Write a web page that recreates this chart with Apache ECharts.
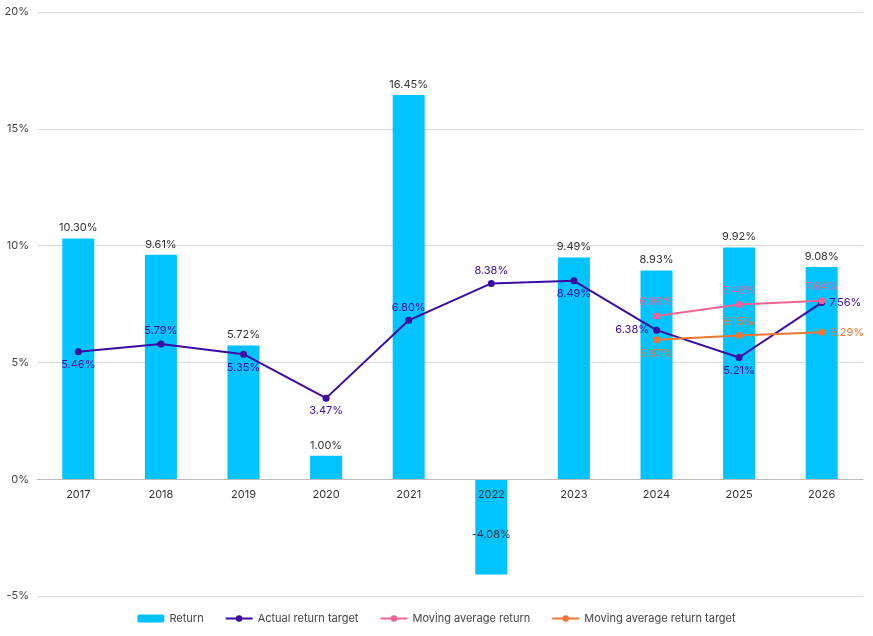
<!DOCTYPE html>
<html>
<head>
<meta charset="utf-8">
<script src="https://cdn.jsdelivr.net/npm/echarts@6/dist/echarts.min.js"></script>
<style>
html, body { margin: 0; padding: 0; background: #fff; }
#chart { width: 873px; height: 636px; }
</style>
</head>
<body>
<div id="chart"></div>
<script>
var years = ['2017', '2018', '2019', '2020', '2021', '2022', '2023', '2024', '2025', '2026'];
var returns = [10.30, 9.61, 5.72, 1.00, 16.45, -4.08, 9.49, 8.93, 9.92, 9.08];
var actualTarget = [5.46, 5.79, 5.35, 3.47, 6.80, 8.38, 8.49, 6.38, 5.21, 7.56];
var movingAvg = [null, null, null, null, null, null, null, 6.99, 7.48, 7.64];
var movingAvgTarget = [null, null, null, null, null, null, null, 5.97, 6.15, 6.29];

// label placement for each point of the line series
var actualPos = ['bottom', 'top', 'bottom', 'bottom', 'top', 'top', 'bottom', 'left', 'bottom', 'right'];
var mavgPos = [null, null, null, null, null, null, null, 'top', 'top', 'top'];
var mavgTargetPos = [null, null, null, null, null, null, null, 'bottom', 'top', 'right'];

var pct = function (p) { return p.value == null ? '' : p.value.toFixed(2) + '%'; };

var withPos = function (values, pos) {
    return values.map(function (v, i) {
        if (v == null) return null;
        return { value: v, label: { position: pos[i] } };
    });
};

var myChart = echarts.init(document.getElementById('chart'));
var option = {
    textStyle: { fontFamily: 'Inter, sans-serif' },
    grid: { left: 37, right: 10, top: 12, bottom: 40, containLabel: false },
    legend: {
        bottom: 7,
        itemWidth: 27,
        itemHeight: 8,
        itemGap: 21,
        textStyle: { fontSize: 11, color: '#444' },
        data: ['Return', 'Actual return target', 'Moving average return', 'Moving average return target']
    },
    xAxis: {
        type: 'category',
        data: years,
        offset: -117,
        z: 10,
        axisLine: { onZero: false, lineStyle: { color: '#bbb' } },
        axisTick: { show: false },
        axisLabel: { color: '#333', fontSize: 11, margin: 10, interval: 0, hideOverlap: false }
    },
    yAxis: {
        type: 'value',
        min: -5,
        max: 20,
        interval: 5,
        axisLine: { show: false },
        axisTick: { show: false },
        axisLabel: { color: '#444', fontSize: 11, formatter: '{value}%', margin: 8, align: 'right' },
        splitLine: { lineStyle: { color: '#dcdcdc' } }
    },
    series: [
        {
            name: 'Return',
            type: 'bar',
            barWidth: 32,
            itemStyle: { color: '#00c3ff' },
            label: { show: true, position: 'top', color: '#333', fontSize: 11, formatter: pct },
            data: returns.map(function (v) {
                return v < 0 ? { value: v, label: { position: 'inside', offset: [0, 8] } } : v;
            })
        },
        {
            name: 'Actual return target',
            type: 'line',
            symbol: 'circle',
            symbolSize: 7,
            color: '#3a0ca3',
            lineStyle: { width: 2, color: '#3a0ca3' },
            label: { show: true, color: '#3a0ca3', fontSize: 11, distance: 4, formatter: pct },
            data: withPos(actualTarget, actualPos),
            z: 3
        },
        {
            name: 'Moving average return',
            type: 'line',
            symbol: 'circle',
            symbolSize: 7,
            color: '#ec6595',
            lineStyle: { width: 2, color: '#ec6595' },
            label: { show: true, color: '#ec6595', fontSize: 11, distance: 5, formatter: pct },
            data: withPos(movingAvg, mavgPos),
            z: 4
        },
        {
            name: 'Moving average return target',
            type: 'line',
            symbol: 'circle',
            symbolSize: 7,
            color: '#ef7732',
            lineStyle: { width: 2, color: '#ef7732' },
            label: { show: true, color: '#ef7732', fontSize: 11, distance: 5, formatter: pct },
            data: withPos(movingAvgTarget, mavgTargetPos),
            z: 4
        }
    ]
};
myChart.setOption(option);
window.onresize = myChart.resize;
</script>
</body>
</html>
